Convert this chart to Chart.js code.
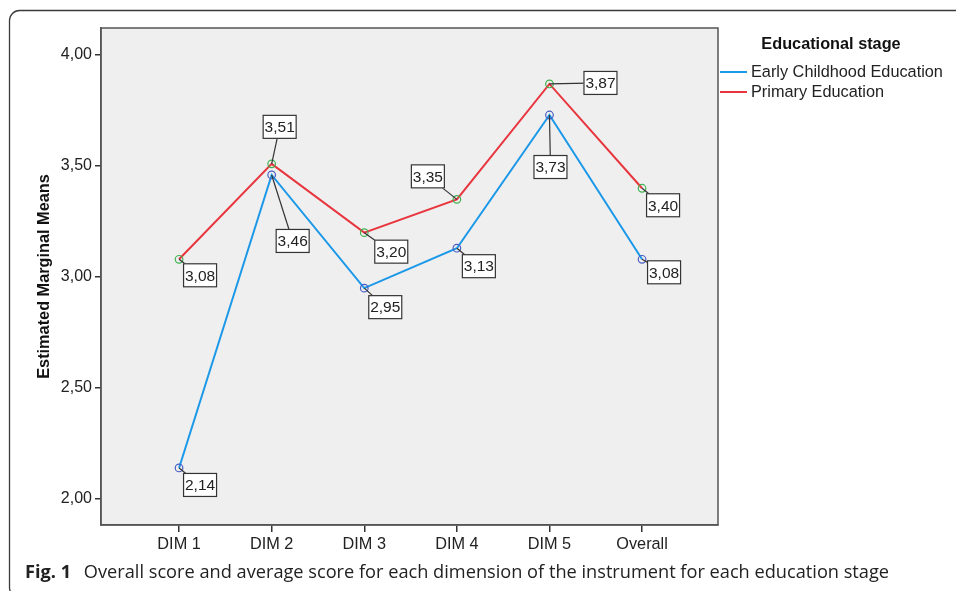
<!DOCTYPE html>
<html>
<head>
<meta charset="utf-8">
<script src="https://cdn.jsdelivr.net/npm/chart.js@4.4.0/dist/chart.umd.min.js"></script>
<style>
  html, body { margin: 0; padding: 0; background: #fff; }
  #wrap { position: relative; width: 956px; height: 591px; overflow: hidden; }
  #c { position: absolute; left: 0; top: 0; }
  #caption { position: absolute; left: 25px; top: 559px; font-family: "Open Sans", "Noto Sans", sans-serif; font-size: 18.2px; color: #222; white-space: nowrap; }
  #caption b { font-weight: 700; margin-right: 8px; }
</style>
</head>
<body>
<div id="wrap">
  <canvas id="c" width="956" height="591"></canvas>
  <div id="caption"><b>Fig. 1</b> Overall score and average score for each dimension of the instrument for each education stage</div>
</div>
<script>
const categories = ["DIM 1", "DIM 2", "DIM 3", "DIM 4", "DIM 5", "Overall"];
const earlyChildhood = [2.14, 3.46, 2.95, 3.13, 3.73, 3.08];
const primary = [3.08, 3.51, 3.20, 3.35, 3.87, 3.40];
const yTicks = [2.0, 2.5, 3.0, 3.5, 4.0];
const seriesNames = ["Early Childhood Education", "Primary Education"];
const legendTitle = "Educational stage";
const yTitle = "Estimated Marginal Means";

// label box offsets (px) relative to each point: layout only
const labelOffsets = [
  [[21,17],[21,66],[21,19],[22,18],[1,52],[22,13]],
  [[21,16],[8,-37],[27,19],[-29,-23],[51,-1],[21,17]]
];

const fmt = v => v.toFixed(2).replace('.', ',');
const FONT = '"Liberation Sans", Arial, sans-serif';

const frame = {
  id: 'frame',
  beforeDraw(chart) {
    const ctx = chart.ctx, a = chart.chartArea;
    ctx.save();
    ctx.strokeStyle = '#3a3a3a';
    ctx.lineWidth = 1.3;
    ctx.beginPath();
    ctx.roundRect(9.5, 10.5, 1000, 587, 10);
    ctx.stroke();
    ctx.fillStyle = '#efefef';
    ctx.fillRect(a.left, a.top, a.right - a.left, a.bottom - a.top);
    ctx.restore();
  },
  afterDatasetsDraw(chart) {
    const ctx = chart.ctx, a = chart.chartArea;
    ctx.save();
    ctx.strokeStyle = '#555';
    ctx.lineWidth = 1.5;
    ctx.strokeRect(a.left, a.top, a.right - a.left, a.bottom - a.top);
    ctx.restore();
  },
  afterDraw(chart) {
    const ctx = chart.ctx;
    ctx.save();
    ctx.font = '15.5px ' + FONT;
    ctx.textAlign = 'center';
    ctx.textBaseline = 'middle';
    chart.data.datasets.forEach((ds, di) => {
      const meta = chart.getDatasetMeta(di);
      meta.data.forEach((pt, i) => {
        const off = labelOffsets[di][i];
        const cx = pt.x + off[0], cy = pt.y + off[1];
        const w = 34, h = 24;
        ctx.strokeStyle = '#333';
        ctx.lineWidth = 1.2;
        ctx.beginPath();
        ctx.moveTo(pt.x, pt.y);
        ctx.lineTo(cx, cy);
        ctx.stroke();
        ctx.fillStyle = '#fff';
        ctx.fillRect(cx - w/2, cy - h/2, w, h);
        ctx.strokeRect(cx - w/2 + 0.5, cy - h/2 + 0.5, w - 1, h - 1);
        ctx.fillStyle = '#222';
        ctx.fillText(fmt(ds.data[i].y), cx, cy + 1);
      });
    });
    ctx.textAlign = 'center';
    ctx.textBaseline = 'middle';
    ctx.fillStyle = '#111';
    ctx.font = 'bold 16.3px ' + FONT;
    ctx.fillText(legendTitle, 831, 45);
    ctx.textAlign = 'left';
    ctx.font = '16.3px ' + FONT;
    const rows = [[chart.data.datasets[0], 72], [chart.data.datasets[1], 92]];
    rows.forEach(([ds, y]) => {
      ctx.strokeStyle = ds.borderColor;
      ctx.lineWidth = 2;
      ctx.beginPath();
      ctx.moveTo(720, y);
      ctx.lineTo(747, y);
      ctx.stroke();
      ctx.fillStyle = '#222';
      ctx.fillText(ds.label, 751, y + 1);
    });
    ctx.restore();
  }
};

const toXY = arr => arr.map((v, i) => ({ x: i, y: v }));

new Chart(document.getElementById('c'), {
  type: 'line',
  data: {
    datasets: [
      { label: seriesNames[0], data: toXY(earlyChildhood), borderColor: '#1b98e8', borderWidth: 2,
        pointRadius: 3.8, pointBorderColor: '#4a5cc4', pointBackgroundColor: 'rgba(0,0,0,0)', pointBorderWidth: 1.2, tension: 0 },
      { label: seriesNames[1], data: toXY(primary), borderColor: '#e8363e', borderWidth: 2,
        pointRadius: 3.8, pointBorderColor: '#3fb24f', pointBackgroundColor: 'rgba(0,0,0,0)', pointBorderWidth: 1.2, tension: 0 }
    ]
  },
  options: {
    responsive: false,
    animation: false,
    events: [],
    layout: { padding: { left: 0, top: 28, right: 238, bottom: 0 } },
    plugins: { legend: { display: false }, tooltip: { enabled: false } },
    scales: {
      x: {
        type: 'linear',
        min: -0.843,
        max: 5.82,
        afterBuildTicks: s => { s.ticks = categories.map((c, i) => ({ value: i })); },
        afterFit: s => { s.height = 66; },
        grid: { display: true, drawOnChartArea: false, drawTicks: true, tickLength: 7, color: '#333', lineWidth: 1.5 },
        border: { display: true, color: '#555', width: 1.5 },
        ticks: { callback: v => categories[v], color: '#222', font: { family: FONT, size: 16.3 }, padding: 3, maxRotation: 0, autoSkip: false }
      },
      y: {
        type: 'linear',
        min: 1.883,
        max: 4.122,
        afterBuildTicks: s => { s.ticks = yTicks.map(v => ({ value: v })); },
        afterFit: s => { s.width = 101; },
        grid: { display: true, drawOnChartArea: false, drawTicks: true, tickLength: 6, color: '#333', lineWidth: 1.5 },
        border: { display: true, color: '#555', width: 1.5 },
        ticks: { callback: v => fmt(v), color: '#222', font: { family: FONT, size: 16 }, padding: 3 },
        title: { display: true, text: yTitle, color: '#111', font: { family: FONT, size: 16.3, weight: 'bold' }, padding: { top: 35, bottom: 0 } }
      }
    }
  },
  plugins: [frame]
});
</script>
</body>
</html>
